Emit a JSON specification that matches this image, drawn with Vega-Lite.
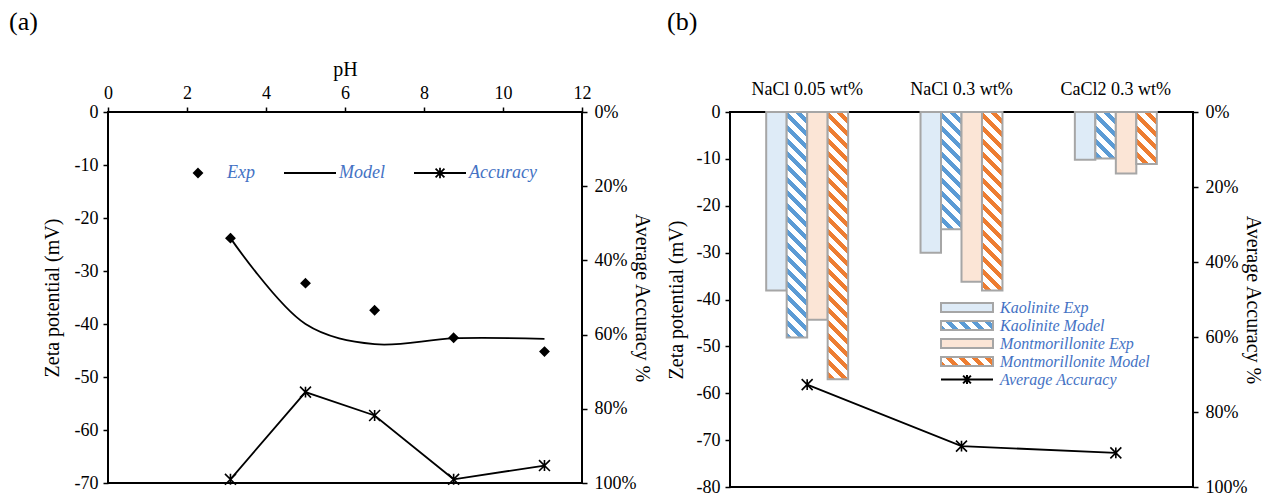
{
  "$schema": "https://vega.github.io/schema/vega-lite/v6.json",
  "background": "white",
  "padding": {"left": 8, "top": 8, "right": 5, "bottom": 5},
  "bounds": "flush",
  "spacing": 148,
  "resolve": {"scale": {"fill": "independent", "shape": "independent", "stroke": "independent"}, "legend": {"fill": "independent", "shape": "independent", "stroke": "independent"}},
  "params": [
    {"name": "stripeBlue", "value": [
      {"offset":0,"color":"#5B9BD5"},{"offset":0.01875,"color":"#5B9BD5"},{"offset":0.01875,"color":"#fff"},{"offset":0.041667,"color":"#fff"},
      {"offset":0.041667,"color":"#5B9BD5"},{"offset":0.060417,"color":"#5B9BD5"},{"offset":0.060417,"color":"#fff"},{"offset":0.083333,"color":"#fff"},
      {"offset":0.083333,"color":"#5B9BD5"},{"offset":0.102083,"color":"#5B9BD5"},{"offset":0.102083,"color":"#fff"},{"offset":0.125,"color":"#fff"},
      {"offset":0.125,"color":"#5B9BD5"},{"offset":0.14375,"color":"#5B9BD5"},{"offset":0.14375,"color":"#fff"},{"offset":0.166667,"color":"#fff"},
      {"offset":0.166667,"color":"#5B9BD5"},{"offset":0.185417,"color":"#5B9BD5"},{"offset":0.185417,"color":"#fff"},{"offset":0.208333,"color":"#fff"},
      {"offset":0.208333,"color":"#5B9BD5"},{"offset":0.227083,"color":"#5B9BD5"},{"offset":0.227083,"color":"#fff"},{"offset":0.25,"color":"#fff"},
      {"offset":0.25,"color":"#5B9BD5"},{"offset":0.26875,"color":"#5B9BD5"},{"offset":0.26875,"color":"#fff"},{"offset":0.291667,"color":"#fff"},
      {"offset":0.291667,"color":"#5B9BD5"},{"offset":0.310417,"color":"#5B9BD5"},{"offset":0.310417,"color":"#fff"},{"offset":0.333333,"color":"#fff"},
      {"offset":0.333333,"color":"#5B9BD5"},{"offset":0.352083,"color":"#5B9BD5"},{"offset":0.352083,"color":"#fff"},{"offset":0.375,"color":"#fff"},
      {"offset":0.375,"color":"#5B9BD5"},{"offset":0.39375,"color":"#5B9BD5"},{"offset":0.39375,"color":"#fff"},{"offset":0.416667,"color":"#fff"},
      {"offset":0.416667,"color":"#5B9BD5"},{"offset":0.435417,"color":"#5B9BD5"},{"offset":0.435417,"color":"#fff"},{"offset":0.458333,"color":"#fff"},
      {"offset":0.458333,"color":"#5B9BD5"},{"offset":0.477083,"color":"#5B9BD5"},{"offset":0.477083,"color":"#fff"},{"offset":0.5,"color":"#fff"},
      {"offset":0.5,"color":"#5B9BD5"},{"offset":0.51875,"color":"#5B9BD5"},{"offset":0.51875,"color":"#fff"},{"offset":0.541667,"color":"#fff"},
      {"offset":0.541667,"color":"#5B9BD5"},{"offset":0.560417,"color":"#5B9BD5"},{"offset":0.560417,"color":"#fff"},{"offset":0.583333,"color":"#fff"},
      {"offset":0.583333,"color":"#5B9BD5"},{"offset":0.602083,"color":"#5B9BD5"},{"offset":0.602083,"color":"#fff"},{"offset":0.625,"color":"#fff"},
      {"offset":0.625,"color":"#5B9BD5"},{"offset":0.64375,"color":"#5B9BD5"},{"offset":0.64375,"color":"#fff"},{"offset":0.666667,"color":"#fff"},
      {"offset":0.666667,"color":"#5B9BD5"},{"offset":0.685417,"color":"#5B9BD5"},{"offset":0.685417,"color":"#fff"},{"offset":0.708333,"color":"#fff"},
      {"offset":0.708333,"color":"#5B9BD5"},{"offset":0.727083,"color":"#5B9BD5"},{"offset":0.727083,"color":"#fff"},{"offset":0.75,"color":"#fff"},
      {"offset":0.75,"color":"#5B9BD5"},{"offset":0.76875,"color":"#5B9BD5"},{"offset":0.76875,"color":"#fff"},{"offset":0.791667,"color":"#fff"},
      {"offset":0.791667,"color":"#5B9BD5"},{"offset":0.810417,"color":"#5B9BD5"},{"offset":0.810417,"color":"#fff"},{"offset":0.833333,"color":"#fff"},
      {"offset":0.833333,"color":"#5B9BD5"},{"offset":0.852083,"color":"#5B9BD5"},{"offset":0.852083,"color":"#fff"},{"offset":0.875,"color":"#fff"},
      {"offset":0.875,"color":"#5B9BD5"},{"offset":0.89375,"color":"#5B9BD5"},{"offset":0.89375,"color":"#fff"},{"offset":0.916667,"color":"#fff"},
      {"offset":0.916667,"color":"#5B9BD5"},{"offset":0.935417,"color":"#5B9BD5"},{"offset":0.935417,"color":"#fff"},{"offset":0.958333,"color":"#fff"},
      {"offset":0.958333,"color":"#5B9BD5"},{"offset":0.977083,"color":"#5B9BD5"},{"offset":0.977083,"color":"#fff"},{"offset":1,"color":"#fff"}
    ]},
    {"name": "stripeOrange", "value": [
      {"offset":0,"color":"#ED7D31"},{"offset":0.01875,"color":"#ED7D31"},{"offset":0.01875,"color":"#fff"},{"offset":0.041667,"color":"#fff"},
      {"offset":0.041667,"color":"#ED7D31"},{"offset":0.060417,"color":"#ED7D31"},{"offset":0.060417,"color":"#fff"},{"offset":0.083333,"color":"#fff"},
      {"offset":0.083333,"color":"#ED7D31"},{"offset":0.102083,"color":"#ED7D31"},{"offset":0.102083,"color":"#fff"},{"offset":0.125,"color":"#fff"},
      {"offset":0.125,"color":"#ED7D31"},{"offset":0.14375,"color":"#ED7D31"},{"offset":0.14375,"color":"#fff"},{"offset":0.166667,"color":"#fff"},
      {"offset":0.166667,"color":"#ED7D31"},{"offset":0.185417,"color":"#ED7D31"},{"offset":0.185417,"color":"#fff"},{"offset":0.208333,"color":"#fff"},
      {"offset":0.208333,"color":"#ED7D31"},{"offset":0.227083,"color":"#ED7D31"},{"offset":0.227083,"color":"#fff"},{"offset":0.25,"color":"#fff"},
      {"offset":0.25,"color":"#ED7D31"},{"offset":0.26875,"color":"#ED7D31"},{"offset":0.26875,"color":"#fff"},{"offset":0.291667,"color":"#fff"},
      {"offset":0.291667,"color":"#ED7D31"},{"offset":0.310417,"color":"#ED7D31"},{"offset":0.310417,"color":"#fff"},{"offset":0.333333,"color":"#fff"},
      {"offset":0.333333,"color":"#ED7D31"},{"offset":0.352083,"color":"#ED7D31"},{"offset":0.352083,"color":"#fff"},{"offset":0.375,"color":"#fff"},
      {"offset":0.375,"color":"#ED7D31"},{"offset":0.39375,"color":"#ED7D31"},{"offset":0.39375,"color":"#fff"},{"offset":0.416667,"color":"#fff"},
      {"offset":0.416667,"color":"#ED7D31"},{"offset":0.435417,"color":"#ED7D31"},{"offset":0.435417,"color":"#fff"},{"offset":0.458333,"color":"#fff"},
      {"offset":0.458333,"color":"#ED7D31"},{"offset":0.477083,"color":"#ED7D31"},{"offset":0.477083,"color":"#fff"},{"offset":0.5,"color":"#fff"},
      {"offset":0.5,"color":"#ED7D31"},{"offset":0.51875,"color":"#ED7D31"},{"offset":0.51875,"color":"#fff"},{"offset":0.541667,"color":"#fff"},
      {"offset":0.541667,"color":"#ED7D31"},{"offset":0.560417,"color":"#ED7D31"},{"offset":0.560417,"color":"#fff"},{"offset":0.583333,"color":"#fff"},
      {"offset":0.583333,"color":"#ED7D31"},{"offset":0.602083,"color":"#ED7D31"},{"offset":0.602083,"color":"#fff"},{"offset":0.625,"color":"#fff"},
      {"offset":0.625,"color":"#ED7D31"},{"offset":0.64375,"color":"#ED7D31"},{"offset":0.64375,"color":"#fff"},{"offset":0.666667,"color":"#fff"},
      {"offset":0.666667,"color":"#ED7D31"},{"offset":0.685417,"color":"#ED7D31"},{"offset":0.685417,"color":"#fff"},{"offset":0.708333,"color":"#fff"},
      {"offset":0.708333,"color":"#ED7D31"},{"offset":0.727083,"color":"#ED7D31"},{"offset":0.727083,"color":"#fff"},{"offset":0.75,"color":"#fff"},
      {"offset":0.75,"color":"#ED7D31"},{"offset":0.76875,"color":"#ED7D31"},{"offset":0.76875,"color":"#fff"},{"offset":0.791667,"color":"#fff"},
      {"offset":0.791667,"color":"#ED7D31"},{"offset":0.810417,"color":"#ED7D31"},{"offset":0.810417,"color":"#fff"},{"offset":0.833333,"color":"#fff"},
      {"offset":0.833333,"color":"#ED7D31"},{"offset":0.852083,"color":"#ED7D31"},{"offset":0.852083,"color":"#fff"},{"offset":0.875,"color":"#fff"},
      {"offset":0.875,"color":"#ED7D31"},{"offset":0.89375,"color":"#ED7D31"},{"offset":0.89375,"color":"#fff"},{"offset":0.916667,"color":"#fff"},
      {"offset":0.916667,"color":"#ED7D31"},{"offset":0.935417,"color":"#ED7D31"},{"offset":0.935417,"color":"#fff"},{"offset":0.958333,"color":"#fff"},
      {"offset":0.958333,"color":"#ED7D31"},{"offset":0.977083,"color":"#ED7D31"},{"offset":0.977083,"color":"#fff"},{"offset":1,"color":"#fff"}
    ]}
  ],
  "config": {
    "font": "Liberation Serif",
    "view": {"stroke": "black", "strokeWidth": 2},
    "axis": {
      "labelFont": "Liberation Serif", "titleFont": "Liberation Serif",
      "labelFontSize": 18, "titleFontSize": 20, "titleFontWeight": "normal",
      "labelColor": "black", "titleColor": "black",
      "grid": false, "domain": false,
      "tickColor": "black", "tickWidth": 1.5, "tickSize": 5
    },
    "title": {"font": "Liberation Serif", "fontSize": 26, "fontWeight": "normal", "anchor": "start", "color": "black", "frame": "group"}
  },
  "hconcat": [
    {
      "width": 474,
      "height": 371,
      "title": {"text": "(a)", "dx": -99, "offset": 24},
      "data": {"values": [
        {"pH": 3.1, "exp": -23.8, "model": -23.8, "accuracy": 99.0},
        {"pH": 5.0, "exp": -32.3, "model": -40.0, "accuracy": 75.5},
        {"pH": 6.75, "exp": -37.4, "model": -43.8, "accuracy": 81.8},
        {"pH": 8.75, "exp": -42.6, "model": -42.7, "accuracy": 99.0},
        {"pH": 11.05, "exp": -45.2, "model": -42.8, "accuracy": 95.3}
      ]},
      "encoding": {
        "x": {
          "field": "pH", "type": "quantitative",
          "scale": {"domain": [0, 12], "nice": false},
          "axis": {"orient": "top", "values": [0, 2, 4, 6, 8, 10, 12], "title": "pH", "labelPadding": 5, "titlePadding": 5, "labelFlush": false}
        }
      },
      "layer": [
        {
          "layer": [
            {
              "mark": {"type": "line", "interpolate": "catmull-rom", "color": "black", "strokeWidth": 1.8},
              "encoding": {
                "y": {"field": "model", "type": "quantitative", "scale": {"domain": [-70, 0], "nice": false},
                  "axis": {"orient": "left", "values": [-70, -60, -50, -40, -30, -20, -10, 0], "labelExpr": "'' + datum.value", "title": "Zeta potential (mV)", "labelPadding": 5, "titlePadding": 12}}
              }
            },
            {
              "mark": {"type": "point", "filled": true, "color": "black", "strokeWidth": 1.8, "size": 2704, "opacity": 1},
              "encoding": {
                "y": {"field": "exp", "type": "quantitative", "scale": {"domain": [-70, 0], "nice": false},
                  "axis": {"orient": "left", "values": [-70, -60, -50, -40, -30, -20, -10, 0], "labelExpr": "'' + datum.value", "title": "Zeta potential (mV)", "labelPadding": 5, "titlePadding": 12}},
                "shape": {
                  "datum": "Exp", "type": "nominal",
                  "scale": {"domain": ["Exp", "Model", "Accuracy"],
                    "range": ["M0,-0.16L0.16,0L0,0.16L-0.16,0Z", "M-1,0H1", "M-1,0H1M-0.17,-0.17L0.17,0.17M-0.17,0.17L0.17,-0.17M0,-0.2V0.2"]},
                  "legend": {
                    "orient": "none", "legendX": 63, "legendY": 34, "direction": "horizontal", "title": null, "padding": 0,
                    "symbolSize": 2704, "symbolStrokeWidth": 1.8, "symbolOpacity": 1,
                    "labelFont": "Liberation Serif", "labelFontSize": 18, "labelFontStyle": "italic",
                    "labelColor": "#4472C4", "labelOffset": 2, "columnPadding": 25
                  }
                },
                "stroke": {
                  "datum": "Exp", "type": "nominal",
                  "scale": {"domain": ["Exp", "Model", "Accuracy"], "range": ["black", "black", "black"]},
                  "legend": {
                    "orient": "none", "legendX": 63, "legendY": 34, "direction": "horizontal", "title": null, "padding": 0,
                    "symbolSize": 2704, "symbolStrokeWidth": 1.8, "symbolOpacity": 1,
                    "labelFont": "Liberation Serif", "labelFontSize": 18, "labelFontStyle": "italic",
                    "labelColor": "#4472C4", "labelOffset": 2, "columnPadding": 25
                  }
                }
              }
            }
          ]
        },
        {
          "layer": [
            {
              "mark": {"type": "line", "color": "black", "strokeWidth": 1.8},
              "encoding": {
                "y": {"field": "accuracy", "type": "quantitative", "scale": {"domain": [0, 100], "reverse": true, "nice": false},
                  "axis": {"orient": "right", "values": [0, 20, 40, 60, 80, 100], "labelExpr": "datum.value + '%'", "title": "Average Accuracy %", "titleAngle": 90, "labelPadding": 7, "titlePadding": -4}}
              }
            },
            {
              "mark": {"type": "point", "shape": "M-1,-1L1,1M-1,1L1,-1M0,-1V1", "filled": false, "size": 120, "color": "black", "strokeWidth": 1.6, "opacity": 1},
              "encoding": {
                "y": {"field": "accuracy", "type": "quantitative", "scale": {"domain": [0, 100], "reverse": true, "nice": false},
                  "axis": {"orient": "right", "values": [0, 20, 40, 60, 80, 100], "labelExpr": "datum.value + '%'", "title": "Average Accuracy %", "titleAngle": 90, "labelPadding": 7, "titlePadding": -4}}
              }
            }
          ]
        }
      ],
      "resolve": {"scale": {"y": "independent"}}
    },
    {
      "width": 463,
      "height": 375,
      "title": {"text": "(b)", "dx": -63, "offset": 45},
      "layer": [
        {
          "data": {"values": [
            {"salt": "NaCl 0.05 wt%", "series": "Kaolinite Exp", "mineral": "Kaolinite", "kind": "Exp", "zeta": -38.1},
            {"salt": "NaCl 0.05 wt%", "series": "Kaolinite Model", "mineral": "Kaolinite", "kind": "Model", "zeta": -48.1},
            {"salt": "NaCl 0.05 wt%", "series": "Montmorillonite Exp", "mineral": "Montmorillonite", "kind": "Exp", "zeta": -44.3},
            {"salt": "NaCl 0.05 wt%", "series": "Montmorillonite Model", "mineral": "Montmorillonite", "kind": "Model", "zeta": -57.0},
            {"salt": "NaCl 0.3 wt%", "series": "Kaolinite Exp", "mineral": "Kaolinite", "kind": "Exp", "zeta": -30.0},
            {"salt": "NaCl 0.3 wt%", "series": "Kaolinite Model", "mineral": "Kaolinite", "kind": "Model", "zeta": -25.0},
            {"salt": "NaCl 0.3 wt%", "series": "Montmorillonite Exp", "mineral": "Montmorillonite", "kind": "Exp", "zeta": -36.2},
            {"salt": "NaCl 0.3 wt%", "series": "Montmorillonite Model", "mineral": "Montmorillonite", "kind": "Model", "zeta": -38.1},
            {"salt": "CaCl2 0.3 wt%", "series": "Kaolinite Exp", "mineral": "Kaolinite", "kind": "Exp", "zeta": -10.2},
            {"salt": "CaCl2 0.3 wt%", "series": "Kaolinite Model", "mineral": "Kaolinite", "kind": "Model", "zeta": -9.9},
            {"salt": "CaCl2 0.3 wt%", "series": "Montmorillonite Exp", "mineral": "Montmorillonite", "kind": "Exp", "zeta": -13.1},
            {"salt": "CaCl2 0.3 wt%", "series": "Montmorillonite Model", "mineral": "Montmorillonite", "kind": "Model", "zeta": -11.1}
          ]},
          "encoding": {
            "x": {"field": "salt", "type": "nominal", "sort": ["NaCl 0.05 wt%", "NaCl 0.3 wt%", "CaCl2 0.3 wt%"],
              "scale": {"paddingInner": 0.469, "paddingOuter": 0.2345},
              "axis": {"orient": "top", "title": null, "labelAngle": 0, "ticks": false, "labelPadding": 14}},
            "xOffset": {"field": "series", "type": "nominal", "sort": ["Kaolinite Exp", "Kaolinite Model", "Montmorillonite Exp", "Montmorillonite Model"]},
            "y": {"field": "zeta", "type": "quantitative", "scale": {"domain": [-80, 0], "nice": false},
              "axis": {"orient": "left", "values": [-80, -70, -60, -50, -40, -30, -20, -10, 0], "labelExpr": "'' + datum.value", "title": "Zeta potential (mV)", "labelPadding": 5, "titlePadding": 10}}
          },
          "layer": [
            {
              "mark": {"type": "bar", "stroke": "#A6A6A6", "strokeWidth": 2},
              "encoding": {
                "fill": {
                  "condition": {"test": "datum.kind === 'Model'", "value": {"expr": "{'gradient': 'linear', 'x1': 0, 'y1': 291.5 / (abs(datum.zeta) * 4.6875), 'x2': 6392.9 / (419.84 + pow(abs(datum.zeta) * 4.6875, 2)), 'y2': 291.5 / (abs(datum.zeta) * 4.6875) - 312 * abs(datum.zeta) * 4.6875 / (419.84 + pow(abs(datum.zeta) * 4.6875, 2)), 'stops': datum.mineral === 'Kaolinite' ? stripeBlue : stripeOrange}"}},
                  "value": {"expr": "datum.mineral === 'Kaolinite' ? '#DEEBF7' : '#FBE5D6'"}
                }
              }
            },
            {
              "mark": {"type": "point", "filled": true, "opacity": 0, "size": 225, "strokeWidth": 2},
              "encoding": {
                "fill": {
                  "field": "series", "type": "nominal",
                  "scale": {"domain": ["Kaolinite Exp", "Kaolinite Model", "Montmorillonite Exp", "Montmorillonite Model", "Average Accuracy"],
                    "range": ["#DEEBF7",
                      {"expr": "{'gradient': 'linear', 'x1': 0, 'y1': 11.312, 'x2': 5.8314, 'y2': 10.3207, 'stops': stripeBlue}"},
                      "#FBE5D6",
                      {"expr": "{'gradient': 'linear', 'x1': 0, 'y1': 11.312, 'x2': 5.8314, 'y2': 10.3207, 'stops': stripeOrange}"},
                      "transparent"]},
                  "legend": {
                    "orient": "none", "legendX": 228.5, "legendY": 187, "direction": "vertical", "title": null, "padding": 0,
                    "symbolSize": 225, "symbolOpacity": 1, "symbolStrokeWidth": 2,
                    "labelFont": "Liberation Serif", "labelFontSize": 16, "labelFontStyle": "italic",
                    "labelColor": "#4472C4", "labelOffset": 24.5, "rowPadding": 1
                  }
                },
                "shape": {
                  "field": "series", "type": "nominal",
                  "scale": {"domain": ["Kaolinite Exp", "Kaolinite Model", "Montmorillonite Exp", "Montmorillonite Model", "Average Accuracy"],
                    "range": ["M-3.467,-0.589H3.467V0.589H-3.467Z", "M-3.467,-0.589H3.467V0.589H-3.467Z", "M-3.467,-0.589H3.467V0.589H-3.467Z", "M-3.467,-0.589H3.467V0.589H-3.467Z",
                      "M-3.467,0H3.467M-0.52,-0.52L0.52,0.52M-0.52,0.52L0.52,-0.52M0,-0.589V0.589"]},
                  "legend": {
                    "orient": "none", "legendX": 228.5, "legendY": 187, "direction": "vertical", "title": null, "padding": 0,
                    "symbolSize": 225, "symbolOpacity": 1, "symbolStrokeWidth": 2,
                    "labelFont": "Liberation Serif", "labelFontSize": 16, "labelFontStyle": "italic",
                    "labelColor": "#4472C4", "labelOffset": 24.5, "rowPadding": 1
                  }
                },
                "stroke": {
                  "field": "series", "type": "nominal",
                  "scale": {"domain": ["Kaolinite Exp", "Kaolinite Model", "Montmorillonite Exp", "Montmorillonite Model", "Average Accuracy"],
                    "range": ["#A6A6A6", "#A6A6A6", "#A6A6A6", "#A6A6A6", "black"]},
                  "legend": {
                    "orient": "none", "legendX": 228.5, "legendY": 187, "direction": "vertical", "title": null, "padding": 0,
                    "symbolSize": 225, "symbolOpacity": 1, "symbolStrokeWidth": 2,
                    "labelFont": "Liberation Serif", "labelFontSize": 16, "labelFontStyle": "italic",
                    "labelColor": "#4472C4", "labelOffset": 24.5, "rowPadding": 1
                  }
                }
              }
            }
          ]
        },
        {
          "data": {"values": [
            {"salt": "NaCl 0.05 wt%", "accuracy": 72.7},
            {"salt": "NaCl 0.3 wt%", "accuracy": 89.1},
            {"salt": "CaCl2 0.3 wt%", "accuracy": 90.9}
          ]},
          "encoding": {
            "x": {"field": "salt", "type": "nominal", "sort": ["NaCl 0.05 wt%", "NaCl 0.3 wt%", "CaCl2 0.3 wt%"],
              "scale": {"paddingInner": 0.469, "paddingOuter": 0.2345},
              "axis": {"orient": "top", "title": null, "labelAngle": 0, "ticks": false, "labelPadding": 14}},
            "y": {"field": "accuracy", "type": "quantitative", "scale": {"domain": [0, 100], "reverse": true, "nice": false},
              "axis": {"orient": "right", "values": [0, 20, 40, 60, 80, 100], "labelExpr": "datum.value + '%'", "title": "Average Accuracy %", "titleAngle": 90, "labelPadding": 7, "titlePadding": -4}}
          },
          "layer": [
            {"mark": {"type": "line", "color": "black", "strokeWidth": 1.8}},
            {"mark": {"type": "point", "shape": "M-1,-1L1,1M-1,1L1,-1M0,-1V1", "filled": false, "size": 120, "color": "black", "strokeWidth": 1.6, "opacity": 1}}
          ]
        }
      ],
      "resolve": {"scale": {"y": "independent"}}
    }
  ]
}
